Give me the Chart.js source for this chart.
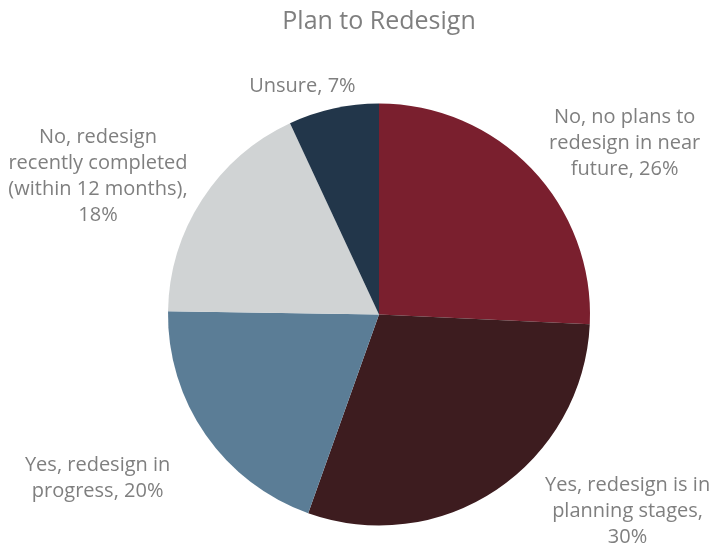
<!DOCTYPE html>
<html>
<head>
<meta charset="utf-8">
<title>Plan to Redesign</title>
<script src="https://cdn.jsdelivr.net/npm/chart.js@4/dist/chart.umd.min.js"></script>
<style>
    html, body { margin: 0; padding: 0; background: #fff; }
    #wrap { width: 717px; height: 548px; }
</style>
</head>
<body>
<div id="wrap"><canvas id="pie"></canvas></div>
<script>
const labels = [
    ['No, no plans to', 'redesign in near', 'future'],
    ['Yes, redesign is in', 'planning stages,'],
    ['Yes, redesign in', 'progress'],
    ['No, redesign', 'recently completed', '(within 12 months)'],
    ['Unsure']
];
const values = [26, 30, 20, 18, 7];
const colors = ['#7a1f2e', '#3d1c1f', '#5b7d96', '#d0d3d4', '#22364a'];

// label text: category lines with the value appended to the last one
function labelLines(i) {
    const lines = labels[i].slice();
    const pct = values[i] + '%';
    const last = lines[lines.length - 1];
    if (last.endsWith(',')) {
        lines.push(pct);
    } else if (i === 3) {
        lines[lines.length - 1] = last + ',';
        lines.push(pct);
    } else {
        lines[lines.length - 1] = last + ', ' + pct;
    }
    return lines;
}

// where each label sits relative to the middle of its slice's rim
const labelShift = [[93, -26], [131, 22], [-108, 44], [-104, -23], [-31, -22]];

const outsideLabels = {
    id: 'outsideLabels',
    afterDatasetsDraw(chart) {
        const ctx = chart.ctx;
        const arcs = chart.getDatasetMeta(0).data;
        ctx.save();
        ctx.font = '20px "Open Sans", sans-serif';
        ctx.fillStyle = '#7f7f7f';
        ctx.textAlign = 'center';
        ctx.textBaseline = 'middle';
        const lineH = 26;
        arcs.forEach((arc, i) => {
            const p = arc.getProps(['x', 'y', 'startAngle', 'endAngle', 'outerRadius']);
            const mid = (p.startAngle + p.endAngle) / 2;
            const cx = p.x + Math.cos(mid) * p.outerRadius + labelShift[i][0];
            const cy = p.y + Math.sin(mid) * p.outerRadius + labelShift[i][1];
            const lines = labelLines(i);
            const top = cy - (lines.length - 1) * lineH / 2;
            lines.forEach((t, k) => ctx.fillText(t, cx, top + k * lineH));
        });
        ctx.restore();
    }
};

new Chart(document.getElementById('pie'), {
    type: 'pie',
    data: {
        labels: labels,
        datasets: [{
            data: values,
            backgroundColor: colors,
            borderWidth: 0
        }]
    },
    options: {
        responsive: true,
        maintainAspectRatio: false,
        animation: false,
        layout: {
            padding: { top: 0, bottom: 22, left: 168, right: 127 }
        },
        plugins: {
            legend: { display: false },
            tooltip: { enabled: false },
            title: {
                display: true,
                text: 'Plan to Redesign',
                color: '#7f7f7f',
                font: { family: '"Open Sans", sans-serif', size: 25, weight: 'normal' },
                padding: { top: 7, bottom: 66 }
            }
        }
    },
    plugins: [outsideLabels]
});
</script>
</body>
</html>
